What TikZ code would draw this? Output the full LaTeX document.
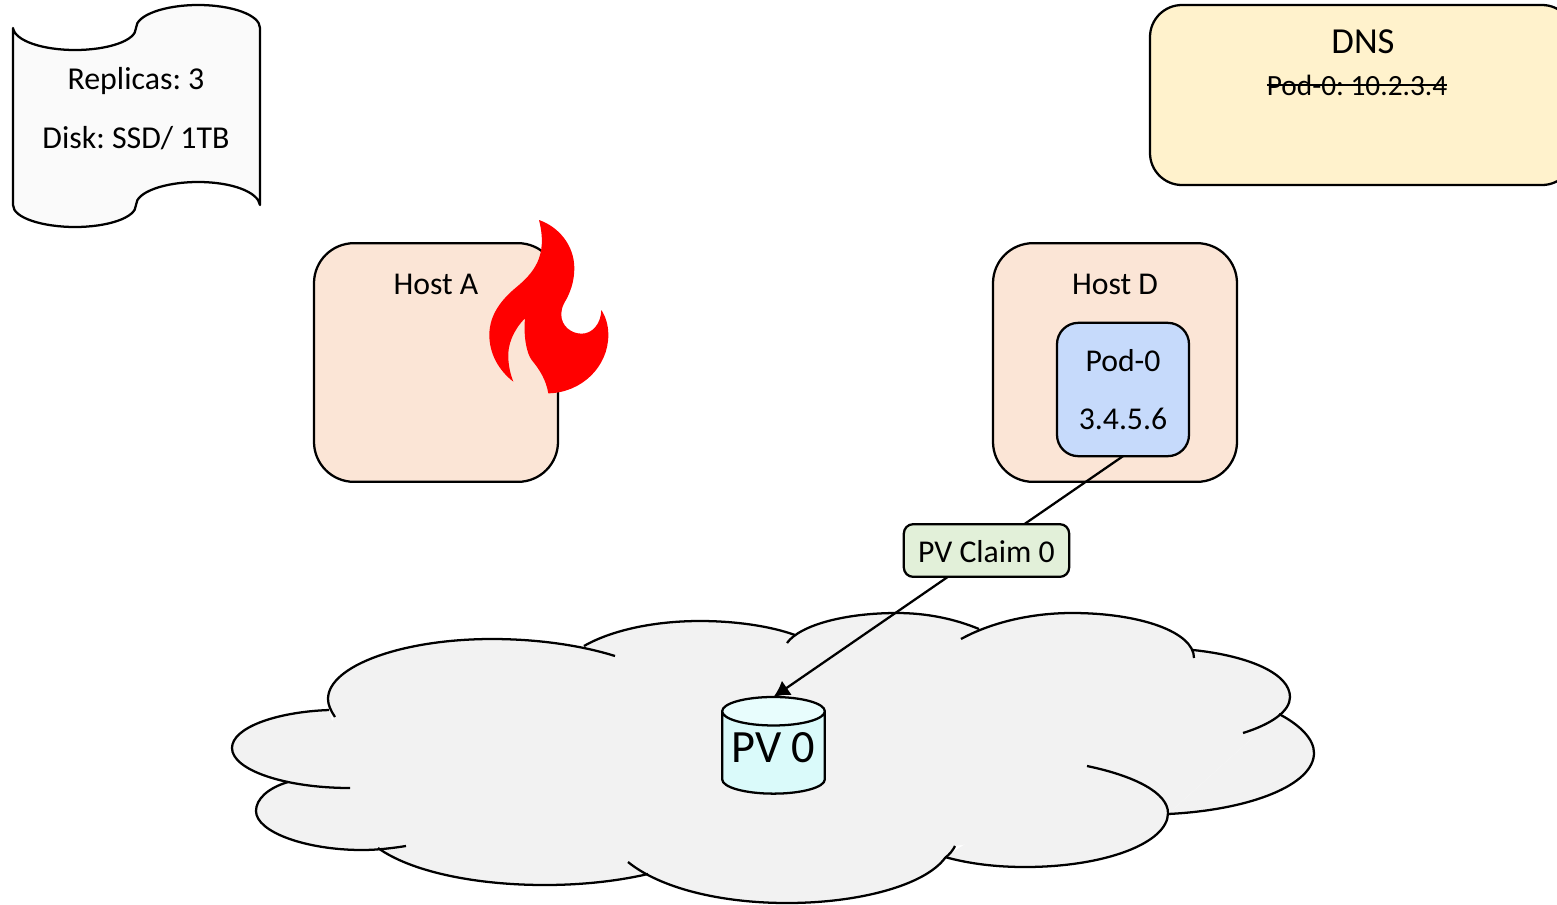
\documentclass[tikz,border=0pt]{standalone}
\usepackage{fontspec}
\setmainfont{Carlito}
\usetikzlibrary{arrows.meta,shapes.geometric}
\definecolor{hostfill}{HTML}{FBE5D6}
\definecolor{podfill}{HTML}{C6DAFB}
\definecolor{dnsfill}{HTML}{FFF2CC}
\definecolor{claimfill}{HTML}{E2F0D9}
\definecolor{cloudfill}{HTML}{F2F2F2}
\definecolor{scrollfill}{HTML}{FAFAFA}
\definecolor{cylend}{HTML}{E8FDFD}
\definecolor{cylbody}{HTML}{DAFAFA}
\frenchspacing
\newcommand\strikeText[1]{\setbox0\hbox{#1}\rlap{\rule[7pt]{\wd0}{1.4pt}}\box0}
\newcommand\LobeFill[1]{\fill[cloudfill] #1;}
\newcommand\LobeDraw[1]{\draw[outline] #1;}
\newcommand\cloudLobes{%
 \myLobe{(335,717) .. controls (331,711) and (328,705) .. (328,699) .. controls (328,666) and (402,639) .. (492,639) .. controls (536,639) and (580,645) .. (615,656)}%
 \myLobe{(329,710) .. controls (275,712) and (232,728) .. (232,748) .. controls (232,770) and (285,788) .. (350,788)}%
 \myLobe{(288,782) .. controls (268,788) and (256,799) .. (256,811) .. controls (256,832) and (306,850) .. (362,850) .. controls (378,850) and (393,848) .. (406,846)}%
 \myLobe{(378,848) .. controls (410,871) and (473,885) .. (545,885) .. controls (582,885) and (618,881) .. (648,874)}%
 \myLobe{(628,862) .. controls (660,888) and (720,903) .. (787,903) .. controls (860,903) and (925,885) .. (945,858) .. controls (950,854) and (953,850) .. (955,846)}%
 \myLobe{(945,857) .. controls (970,864) and (997,867) .. (1025,867) .. controls (1105,867) and (1168,843) .. (1168,813) .. controls (1168,793) and (1135,776) .. (1087,766)}%
 \myLobe{(1168,814) .. controls (1250,810) and (1314,785) .. (1314,753) .. controls (1314,739) and (1300,725) .. (1279,714)}%
 \myLobe{(1243,733) .. controls (1272,724) and (1290,711) .. (1290,697) .. controls (1290,674) and (1250,656) .. (1193,650)}%
 \myLobe{(1194,658) .. controls (1194,632) and (1140,613) .. (1072,613) .. controls (1030,613) and (990,623) .. (961,639)}%
 \myLobe{(787,643) .. controls (800,625) and (845,613) .. (897,613) .. controls (927,613) and (955,619) .. (979,629)}%
 \myLobe{(584,646) .. controls (610,631) and (652,621) .. (700,621) .. controls (735,621) and (770,626) .. (795,635)}%
}
\tikzset{
  outline/.style={line width=1.7pt,line join=round},
  basebox/.style={draw,outline,inner sep=0pt,outer sep=0pt},
  hostbox/.style={basebox,fill=hostfill,rounded corners=30pt,minimum width=183pt,minimum height=179pt},
  podbox/.style={basebox,fill=podfill,rounded corners=16pt,minimum width=99pt,minimum height=100pt,
    align=center,font=\fontsize{23.8}{43.5}\selectfont},
  dnsbox/.style={basebox,fill=dnsfill,rounded corners=24pt,minimum width=318pt,minimum height=135pt},
  claimbox/.style={basebox,fill=claimfill,rounded corners=7pt,minimum width=124pt,minimum height=39.5pt,
    font=\fontsize{23.8}{28}\selectfont},
  labeltext/.style={inner sep=0pt,font=\fontsize{23.8}{28}\selectfont},
  pvcyl/.style={draw,outline,cylinder,shape border rotate=90,aspect=0.34,inner sep=0pt,outer sep=0pt,
    minimum width=77pt,minimum height=72.5pt,cylinder uses custom fill,
    cylinder end fill=cylend,cylinder body fill=cylbody,font=\fontsize{34.7}{40}\selectfont},
  link/.style={line width=1.7pt,-{Latex[length=12pt,width=13pt]}}
}
\begin{document}
\begin{tikzpicture}[x=0.75pt,y=-0.75pt]
\useasboundingbox (0,0) rectangle (1557,904);
\clip (0,0) rectangle (1557,904);
% cloud
\let\myLobe\LobeFill
\fill[cloudfill] (335,717) -- (492,639) -- (584,646) -- (700,621) -- (795,635) -- (897,613) -- (979,629) -- (1072,613) -- (1193,650) -- (1279,714) -- (1168,814) -- (955,846) -- (787,903) -- (648,874) -- (545,885) -- (378,848) -- (288,782) -- cycle;
\cloudLobes
\let\myLobe\LobeDraw
\cloudLobes
% scroll
\draw[outline,fill=scrollfill] (13,28) .. controls (15,41) and (43,50) .. (75,50) .. controls (107,50) and (136,41) .. (136,28) .. controls (136,15) and (165,5) .. (198,5) .. controls (232,5) and (260,15) .. (260,28) -- (260,205) .. controls (258,192) and (232,182) .. (198,182) .. controls (165,182) and (136,192) .. (136,205) .. controls (136,218) and (107,227) .. (75,227) .. controls (43,227) and (13,218) .. (13,205) -- cycle;
\node[inner sep=0pt,align=center,font=\fontsize{23.9}{44}\selectfont] (spec) at (136,108.5) {Replicas: 3\\Disk: SSD/ 1TB};
% DNS
\node[dnsbox] (dns) at (1362,95) {};
\node[inner sep=0pt,font=\fontsize{27.5}{32}\selectfont] (dnstitle) at (1363,42) {DNS};
\node[inner sep=0pt,font=\fontsize{22}{26}\selectfont] (dnsentry) at (1357,85) {\strikeText{Pod-0: 10.2.3.4}};
% hosts
\node[hostbox] (hosta) at (436,362.5) {};
\node[labeltext] (hostalabel) at (436,284) {Host A};
\node[hostbox] (hostd) at (1115,362.5) {};
\node[labeltext] (hostdlabel) at (1115,284) {Host D};
\node[podbox] (pod) at (1123,389.5) {Pod-0\\3.4.5.6};
% flame
\begin{scope}[shift={(470,210)},x=0.25pt,y=-0.25pt]
\fill[red] (207,30) .. controls (265,50) and (313,105) .. (313,175) .. controls (313,215) and (300,250) .. (285,275) .. controls (277,288) and (274,300) .. (274,315) .. controls (274,347) and (303,371) .. (335,371) .. controls (368,371) and (393,340) .. (394,300) .. controls (407,320) and (415,345) .. (415,375) .. controls (415,470) and (335,548) .. (235,550) .. controls (228,510) and (210,480) .. (185,450) .. controls (170,430) and (160,380) .. (165,325) .. controls (130,360) and (112,405) .. (115,445) .. controls (116,470) and (122,495) .. (130,515) .. controls (85,480) and (58,430) .. (58,375) .. controls (58,310) and (100,265) .. (135,235) .. controls (190,190) and (235,140) .. (207,30) -- cycle;
\end{scope}
% storage
\node[pvcyl] (pv) at (773.5,753) {\raisebox{4.2pt}[\height][\depth]{PV 0}};
\draw[link] (pod.south) -- (pv.north);
\node[claimbox] (claim) at (986.5,550.5) {\raisebox{-0.8pt}[\height][\depth]{PV Claim 0}};
\end{tikzpicture}
\end{document}
